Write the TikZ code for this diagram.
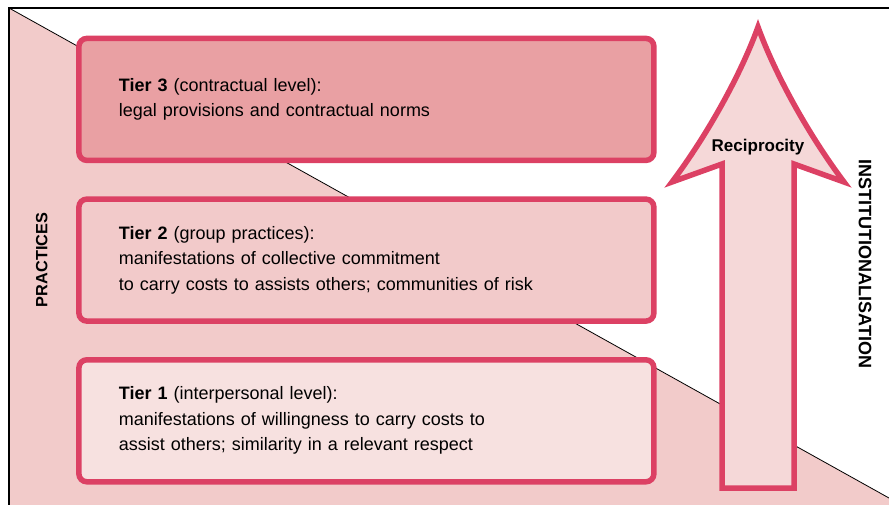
\documentclass[tikz,border=0pt]{standalone}
\usepackage{fontspec}
\setmainfont{Liberation Sans}
\usetikzlibrary{positioning}

\definecolor{tierred}{RGB}{220,65,100}
\definecolor{bgpink}{RGB}{242,203,202}
\definecolor{tierthree}{RGB}{233,160,163}
\definecolor{tiertwo}{RGB}{242,202,202}
\definecolor{tierone}{RGB}{247,225,224}
\definecolor{arrowpink}{RGB}{245,216,216}

\begin{document}
\begin{tikzpicture}[x=1pt, y=-1pt, node distance=38.7pt,
	tier/.style={draw=tierred, line width=5.5pt, rounded corners=8pt, outer sep=0pt,
		minimum width=575pt, minimum height=122pt, text width=495pt, inner xsep=40pt,
		align=left, font=\fontsize{18}{25.5}\selectfont},
	sidelabel/.style={font=\bfseries, inner sep=0pt}]
	
	\useasboundingbox (0,0) rectangle (889,505);
	
	% background split by the diagonal
	\fill[bgpink] (9,8) -- (889,498) -- (889,505) -- (9,505) -- cycle;
	\draw[black, line width=0.8pt] (9,8) -- (889,498);
	\draw[black, line width=1.8pt] (9,505) -- (9,8) -- (889,8);
	
	% the three tiers
	\node[tier, fill=tierthree] (t3) at (366.4,99.4) {\textbf{Tier 3} (contractual level):\\
		legal provisions and contractual norms};
	\node[tier, fill=tiertwo, below=of t3] (t2) {\textbf{Tier 2} (group practices):\\
		manifestations of collective commitment\\
		to carry costs to assists others; communities of risk};
	\node[tier, fill=tierone, below=of t2] (t1) {\textbf{Tier 1} (interpersonal level):\\
		manifestations of willingness to carry costs to\\
		assist others; similarity in a relevant respect};
	
	% reciprocity arrow
	\draw[tierred, line width=5.5pt, fill=arrowpink, line join=miter]
		(722,488) -- (722,164) -- (672,182)
		.. controls (708,134) and (741,74) .. (758,27)
		.. controls (775,74) and (808,134) .. (844,182)
		-- (794,164) -- (794,488) -- cycle;
	\node[font=\bfseries\fontsize{17}{20}\selectfont, anchor=base] (recip) at (758,151.5) {Reciprocity};
	
	% side labels
	\node[sidelabel, rotate=90, font=\bfseries\fontsize{16.3}{18}\selectfont] (prac) at (41.7,260) {PRACTICES};
	\node[sidelabel, rotate=-90, font=\bfseries\fontsize{18}{20}\selectfont] (inst) at (865,264) {INSTITUTIONALISATION};
	
\end{tikzpicture}
\end{document}
